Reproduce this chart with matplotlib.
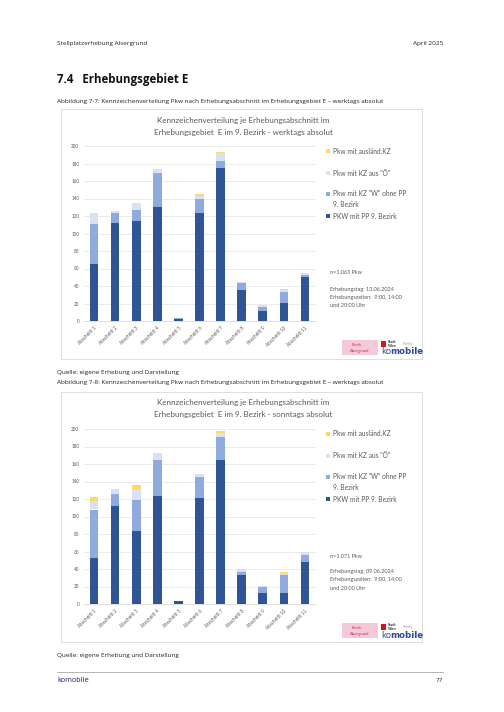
import matplotlib.pyplot as plt
from matplotlib.patches import Rectangle
import numpy as np

W, H = 504, 712

# Daten
abschnitte = ["Abschnitt %d" % i for i in range(1, 12)]
legende = ['PKW mit PP 9. Bezirk', 'Pkw mit KZ "W" ohne PP\n9. Bezirk',
           'Pkw mit KZ aus "Ö"', 'Pkw mit ausländ.KZ']
farben = ["#2F5597", "#8FAADC", "#D9E1F2", "#FFD966"]
yticks = [0, 20, 40, 60, 80, 100, 120, 140, 160, 180, 200]

# werktags
wt_pp = [65, 112, 114, 130, 2, 123, 175, 35, 11, 21, 50]
wt_w = [46, 12, 13, 39, 1, 17, 8, 9, 5, 12, 3]
wt_oe = [12, 2, 8, 5, 0, 3, 9, 1, 2, 2, 2]
wt_ausl = [0, 0, 0, 0, 0, 2, 1, 0, 0, 2, 0]

# sonntags
so_pp = [53, 112, 84, 123, 3, 121, 165, 33, 13, 13, 48]
so_w = [55, 14, 35, 41, 0, 24, 26, 4, 6, 20, 8]
so_oe = [10, 5, 12, 8, 0, 4, 4, 3, 2, 3, 3]
so_ausl = [4, 0, 5, 0, 0, 0, 3, 0, 0, 1, 0]

fig = plt.figure(figsize=(W / 100, H / 100), dpi=100)
fig.patch.set_facecolor("white")

seite = "Open Sans"
chart = "Lato"
grau = "#595959"


def T(x, y, s, **kw):
    kw.setdefault("family", seite)
    kw.setdefault("va", "center")
    fig.text(x / W, 1 - y / H, s, **kw)


def R(x0, y0, x1, y1, **kw):
    fig.patches.append(Rectangle((x0 / W, 1 - y1 / H), (x1 - x0) / W, (y1 - y0) / H,
                                 transform=fig.transFigure, figure=fig, **kw))


def diagramm(dy, reihen, titel, n_text, tag):
    # Rahmen (hinter den Achsen)
    R(61, 109 + dy, 422, 359 + dy, facecolor="white", edgecolor="#D9D9D9", lw=0.6,
      zorder=-5)
    T(243, 120 + dy, "Kennzeichenverteilung je Erhebungsabschnitt im",
      family=chart, fontsize=5.8, color=grau, ha="center")
    T(243, 132 + dy, titel, family=chart, fontsize=5.8, color=grau, ha="center")

    ax = fig.add_axes([83.5 / W, 1 - (321 + dy) / H, 232 / W, 175 / H])
    ax.set_zorder(3)
    ax.patch.set_alpha(0)
    x = np.arange(len(abschnitte))
    unten = np.zeros(len(abschnitte))
    for werte, farbe in zip(reihen, farben):
        ax.bar(x, werte, 0.41, bottom=unten, color=farbe, zorder=3)
        unten += np.array(werte)
    ax.set_xlim(-0.5, len(abschnitte) - 0.5)
    ax.set_ylim(0, 200)
    ax.set_yticks(yticks)
    ax.set_xticks(x)
    ax.set_xticklabels(abschnitte, rotation=45, ha="right", rotation_mode="anchor")
    ax.grid(axis="y", color="#E3E3E3", lw=0.5, zorder=0)
    for s in ["top", "right", "left"]:
        ax.spines[s].set_visible(False)
    ax.spines["bottom"].set_color("#D0D0D0")
    ax.spines["bottom"].set_linewidth(0.5)
    ax.tick_params(length=0, labelsize=3.3, labelcolor=grau, pad=3)
    for lab in ax.get_xticklabels() + ax.get_yticklabels():
        lab.set_family(chart)

    # Legende
    pos = [216, 194, 173, 151]
    for lab, farbe, yy in zip(legende, farben, pos):
        R(326, yy + dy - 2, 330, yy + dy + 2, facecolor=farbe, edgecolor="none")
        T(333, yy + dy + (5 if "\n" in lab else 0), lab, family=chart,
          fontsize=4.8, color=grau, linespacing=1.6)

    T(330, 273 + dy, n_text, family=chart, fontsize=4.0, color=grau)
    T(330, 289 + dy, "Erhebungstag: " + tag, family=chart, fontsize=4.0, color=grau)
    T(330, 297 + dy, "Erhebungszeiten:  9:00, 14:00", family=chart, fontsize=4.0, color=grau)
    T(330, 305 + dy, "und 20:00 Uhr", family=chart, fontsize=4.0, color=grau)

    # Logos
    R(342, 340 + dy, 378, 355 + dy, facecolor="#F6C9D8", edgecolor="none")
    T(352, 345 + dy, "Bezirk", family=chart, fontsize=2.6, color="#C0355F")
    T(350, 351 + dy, "Alsergrund", family=chart, fontsize=3.0, color="#C0355F")
    R(381, 341 + dy, 386, 347 + dy, facecolor="#D7141A", edgecolor="none")
    T(388, 342 + dy, "Stadt", family=chart, fontsize=2.6, color="#333333", weight="bold")
    T(388, 346 + dy, "Wien", family=chart, fontsize=2.6, color="#333333", weight="bold")
    T(403, 344 + dy, "Mobility", family=chart, fontsize=2.0, color="#999999")
    T(381, 352 + dy, "ko", family="DejaVu Sans", fontsize=6.2, color="#4A4A6A")
    T(390, 352 + dy, "mobile", family="DejaVu Sans", fontsize=6.2, color="#2F4A9A",
      weight="bold")


# Kopf- und Fusszeile
T(57, 43, "Stellplatzerhebung Alsergrund", fontsize=4.6, color="#222222")
T(443, 43, "April 2025", fontsize=4.6, color="#222222", ha="right")
T(57, 79, "7.4   Erhebungsgebiet E", fontsize=8.3, weight="bold", color="#111111")
T(57, 101, "Abbildung 7-7: Kennzeichenverteilung Pkw nach Erhebungsabschnitt im "
           "Erhebungsgebiet E – werktags absolut", fontsize=4.6, color="#222222")
T(57, 372, "Quelle: eigene Erhebung und Darstellung", fontsize=4.6, color="#222222")
T(57, 383, "Abbildung 7-8: Kennzeichenverteilung Pkw nach Erhebungsabschnitt im "
           "Erhebungsgebiet E – werktags absolut", fontsize=4.6, color="#222222")
T(57, 655, "Quelle: eigene Erhebung und Darstellung", fontsize=4.6, color="#222222")

fig.add_artist(plt.Line2D([57 / W, 443 / W], [1 - 672 / H, 1 - 672 / H],
                          color="#AAAAAA", lw=0.6))
T(57, 680, "komobile", family="DejaVu Sans", fontsize=5.0, color="#2E2E6E")
T(443, 680, "77", fontsize=4.6, color="#222222", ha="right")

diagramm(0, [wt_pp, wt_w, wt_oe, wt_ausl],
         "Erhebungsgebiet  E im 9. Bezirk - werktags absolut", "n=1.063 Pkw", "13.06.2024")
diagramm(283, [so_pp, so_w, so_oe, so_ausl],
         "Erhebungsgebiet  E im 9. Bezirk - sonntags absolut", "n=1.071 Pkw", "09.06.2024")

fig.savefig("out.png", dpi=100, facecolor="white")
